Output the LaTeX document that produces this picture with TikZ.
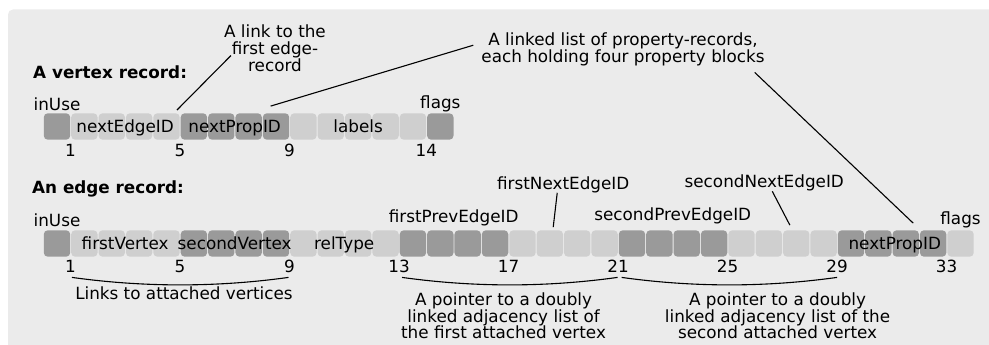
\documentclass[tikz,border=0pt]{standalone}
\usepackage{fontspec}
\setmainfont{DejaVu Sans}
\usepackage{tikz}
\usetikzlibrary{positioning, calc}
\definecolor{panelgray}{RGB}{235,235,235}
\definecolor{celldark}{RGB}{154,154,154}
\definecolor{celllight}{RGB}{207,207,207}

\begin{document}
\begin{tikzpicture}[
    x=1pt, y=-1pt,
    every node/.style={font=\fontsize{16.8}{16.8}\selectfont},
    cellbox/.style={rectangle, minimum size=26.4pt, inner sep=0pt, rounded corners=4pt},
    txt/.style={inner sep=0pt, anchor=base},
    title/.style={inner sep=0pt, anchor=base west, font=\fontsize{16.8}{16.8}\selectfont\bfseries},
    note/.style={inner sep=0pt, anchor=north, align=center},
    ptr/.style={draw, line width=1.1pt, black},
    brace/.style={draw, line width=1.1pt, black}
  ]
  \useasboundingbox (0,0) rectangle (989,345);
  \fill[panelgray, rounded corners=5pt] (8,9.5) rectangle (1000,360);

  % vertex record
  \node[title] (vtitle) at (33,78) {A vertex record:};
  \foreach \a/\b/\c in {0/0/celldark, 1/4/celllight, 5/8/celldark, 9/13/celllight, 14/14/celldark}
    \foreach \i in {\a,...,\b}
      \node[cellbox, fill=\c] (v\i) at ({56.99+27.38*\i}, 126.5) {};
  \foreach \i in {1,5,9,14}
    \node[txt] (vn\i) at ($(v\i.south west)+(-0.5,17)$) {\i};
  \node[txt] (vuse) at ($(v0.north)+(0,-3)$) {inUse};
  \node[txt] (vflags) at ($(v14.north)+(0,-5)$) {flags};
  \node[txt] (vedge) at ($(v2.east)+(0,5.5)$) {nextEdgeID};
  \node[txt] (vprop) at ($(v6.east)+(0,5.5)$) {nextPropID};
  \node[txt] (vlab) at ($(v11)+(0,5.5)$) {labels};

  % edge record
  \node[title] (etitle) at (32,193) {An edge record:};
  \foreach \a/\b/\c in {0/0/celldark, 1/4/celllight, 5/8/celldark, 9/12/celllight, 13/16/celldark,
                        17/20/celllight, 21/24/celldark, 25/28/celllight, 29/32/celldark, 33/33/celllight}
    \foreach \i in {\a,...,\b}
      \node[cellbox, fill=\c] (e\i) at ({56.99+27.38*\i}, 243.5) {};
  \foreach \i in {1,5,...,33}
    \node[txt] (en\i) at ($(e\i.south west)+(-0.5,16)$) {\i};
  \node[txt] (euse) at ($(e0.north)+(0,-4)$) {inUse};
  \node[txt] (eflags) at ($(e33.north)+(0,-5.5)$) {flags};
  \node[txt] (efv) at ($(e2.east)+(0,5.5)$) {firstVertex};
  \node[txt] (esv) at ($(e6.east)+(0,5.5)$) {secondVertex};
  \node[txt] (erel) at ($(e10.east)+(0,5.5)$) {relType};
  \node[txt] (eprop) at ($(e30.east)+(3,5.5)$) {nextPropID};
  \node[txt] (fpe) at ($(e14.north east)+(0,-8)$) {firstPrevEdgeID};
  \node[txt] (spe) at ($(e22.north east)+(0,-10)$) {secondPrevEdgeID};
  \node[txt] (fne) at ($(e18.north east)+(0,-41)$) {firstNextEdgeID};
  \node[txt] (sne) at ($(e26.north east)+(-18,-43)$) {secondNextEdgeID};

  % notes
  \node[note] (lnk) at (275,24.5) {A link to the\\first edge-\\record};
  \node[note] (plist) at (623,33) {A linked list of property-records,\\each holding four property blocks};
  \node[txt] (links) at ($(en5.base)+(4,27)$) {Links to attached vertices};
  \node[note] (adj1) at ($(en17.base)+(-5,19.5)$) {A pointer to a doubly\\linked adjacency list of\\the first attached vertex};
  \node[note] (adj2) at ($(en25.base)+(50,19.5)$) {A pointer to a doubly\\linked adjacency list of the\\second attached vertex};

  \draw[ptr] ($(lnk.south west)+(7,-16)$) -- ($(v4.north east)+(-3,-3)$);
  \draw[ptr] ($(plist.west)+(-8,-4.5)$) -- ($(v8.north west)+(8,-7)$);
  \draw[ptr] ($(plist.south east)+(-10,6)$) -- ($(e31.north east)+(-6,-7)$);
  \draw[ptr] ($(fne.south)+(-6,0)$) -- ($(e18.north east)+(-10,-3)$);
  \draw[ptr] ($(sne.south)+(8,0.5)$) -- ($(e27.north west)+(7,-5)$);

  % braces
  \draw[brace] ($(en1.base)+(1.5,4.5)$) .. controls +(72,10) and +(-72,10) .. ($(en9.base)+(-1,4.5)$);
  \draw[brace] ($(en13.base)+(3,4.5)$) .. controls +(72,10) and +(-72,10) .. ($(en21.base)+(-0.5,4.5)$);
  \draw[brace] ($(en21.base)+(3.5,4.5)$) .. controls +(72,10) and +(-72,10) .. ($(en29.base)+(0,4.5)$);
\end{tikzpicture}
\end{document}
